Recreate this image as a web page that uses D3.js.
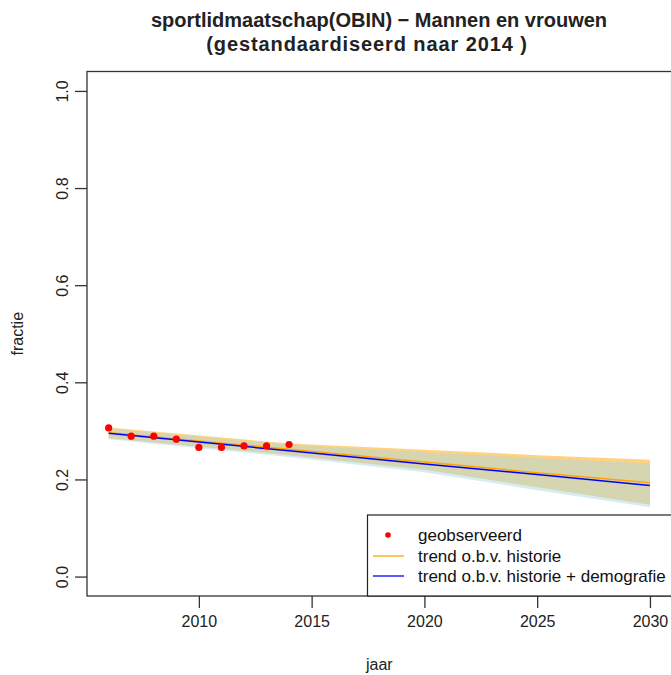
<!DOCTYPE html>
<html>
<head>
<meta charset="utf-8">
<script src="https://cdn.jsdelivr.net/npm/d3@7/dist/d3.min.js"></script>
<style>
  html, body { margin: 0; padding: 0; background: #fff; overflow: hidden; }
  text { font-family: "Liberation Sans", Arial, sans-serif; }
</style>
</head>
<body>
<script>
// Observed sport club membership fractions
const obsYears = [2006, 2007, 2008, 2009, 2010, 2011, 2012, 2013, 2014];
const obsValues = [0.306, 0.289, 0.289, 0.283, 0.266, 0.266, 0.269, 0.269, 0.272];

// Projection years and trend lines with their bands
const trendYears = [2006, 2014, 2020, 2025, 2030];
const histMid   = [0.296, 0.262, 0.236, 0.214, 0.193];
const histLow   = [0.285, 0.250, 0.220, 0.184, 0.148];
const histHigh  = [0.307, 0.274, 0.261, 0.250, 0.2405];
const demoMid   = [0.295, 0.259, 0.232, 0.210, 0.1875];
const demoLow   = [0.283, 0.246, 0.215, 0.178, 0.143];
const demoHigh  = [0.305, 0.271, 0.256, 0.244, 0.233];

const xTicks = [2010, 2015, 2020, 2025, 2030];
const yTicks = [0.0, 0.2, 0.4, 0.6, 0.8, 1.0];

const legendLabels = ["geobserveerd", "trend o.b.v. historie", "trend o.b.v. historie + demografie"];
const titleLines = ["sportlidmaatschap(OBIN) \u2212 Mannen en vrouwen", "(gestandaardiseerd naar 2014 )"];

const W = 671, H = 675;
const plot = { left: 87, top: 71.5, right: 671.6, bottom: 596 };

const svg = d3.select("body").append("svg")
  .attr("width", W).attr("height", H);

// R-style 4% padding around data ranges
const x = d3.scaleLinear().domain([2005.04, 2030.96]).range([plot.left, plot.right]);
const y = d3.scaleLinear().domain([-0.04, 1.04]).range([plot.bottom, plot.top]);

// Confidence bands
const band = (lo, hi) => d3.area()
  .x((d, i) => x(trendYears[i]))
  .y0((d, i) => y(lo[i]))
  .y1((d, i) => y(hi[i]))(trendYears);

svg.append("path").attr("d", band(histLow, histHigh))
  .attr("fill", "#FFA500").attr("fill-opacity", 0.5);
svg.append("path").attr("d", band(demoLow, demoHigh))
  .attr("fill", "#ADD8E6").attr("fill-opacity", 0.5);

const line = vals => d3.line()
  .x((d, i) => x(trendYears[i]))
  .y((d, i) => y(vals[i]))(trendYears);

svg.append("path").attr("d", line(histMid))
  .attr("fill", "none").attr("stroke", "#FFA500").attr("stroke-width", 1.5);
svg.append("path").attr("d", line(demoMid))
  .attr("fill", "none").attr("stroke", "#0000FF").attr("stroke-width", 1.5);

// Observed points
svg.append("g").selectAll("circle").data(obsYears).join("circle")
  .attr("cx", d => x(d))
  .attr("cy", (d, i) => y(obsValues[i]))
  .attr("r", 3.6)
  .attr("fill", "#FF0000");

// Plot frame
svg.append("rect")
  .attr("x", plot.left).attr("y", plot.top)
  .attr("width", plot.right - plot.left).attr("height", plot.bottom - plot.top)
  .attr("fill", "none").attr("stroke", "#333").attr("stroke-width", 1.3);

// Axes
const xAxis = svg.append("g")
  .attr("transform", `translate(0,${plot.bottom})`)
  .call(d3.axisBottom(x).tickValues(xTicks).tickFormat(d3.format("d")).tickSize(12).tickPadding(8));
xAxis.select(".domain").remove();
xAxis.selectAll("line").attr("stroke", "#333").attr("stroke-width", 1.3);
xAxis.selectAll("text").attr("font-size", 16).attr("fill", "#222")
  .attr("font-family", "Liberation Sans, Arial, sans-serif");

const yAxis = svg.append("g")
  .attr("transform", `translate(${plot.left},0)`)
  .call(d3.axisLeft(y).tickValues(yTicks).tickFormat(d3.format(".1f")).tickSize(12).tickPadding(0));
yAxis.select(".domain").remove();
yAxis.selectAll("line").attr("stroke", "#333").attr("stroke-width", 1.3);
yAxis.selectAll("text")
  .attr("font-size", 16).attr("fill", "#222")
  .attr("font-family", "Liberation Sans, Arial, sans-serif")
  .attr("x", null).attr("dy", null)
  .attr("text-anchor", "middle")
  .attr("transform", "translate(-25,0) rotate(-90)")
  .attr("dominant-baseline", "central");

// Axis titles
svg.append("text").attr("x", (plot.left + plot.right) / 2 - 0).attr("y", 670)
  .attr("text-anchor", "middle").attr("font-size", 16).attr("fill", "#222").text("jaar");
svg.append("text")
  .attr("transform", `translate(23,${(plot.top + plot.bottom) / 2}) rotate(-90)`)
  .attr("text-anchor", "middle").attr("font-size", 16).attr("fill", "#222").text("fractie");

// Title
const titleX = [379, 367];
const titleSpacing = [0, 0.9];
svg.append("g").selectAll("text").data(titleLines).join("text")
  .attr("x", (d, i) => titleX[i]).attr("y", (d, i) => 27 + i * 24)
  .attr("text-anchor", "middle").attr("font-size", 20).attr("font-weight", "bold")
  .attr("letter-spacing", (d, i) => titleSpacing[i])
  .attr("fill", "#222").text(d => d);

// Legend
const lg = svg.append("g");
lg.append("rect")
  .attr("x", 367.5).attr("y", 515).attr("width", plot.right - 367.5).attr("height", plot.bottom - 515)
  .attr("fill", "#fff").attr("stroke", "#222").attr("stroke-width", 1.2);
const legY = [535, 556, 576];
lg.append("circle").attr("cx", 388).attr("cy", legY[0]).attr("r", 2.8).attr("fill", "#FF0000");
lg.append("line").attr("x1", 373).attr("x2", 404).attr("y1", legY[1]).attr("y2", legY[1])
  .attr("stroke", "#FFA500").attr("stroke-width", 1.3);
lg.append("line").attr("x1", 373).attr("x2", 404).attr("y1", legY[2]).attr("y2", legY[2])
  .attr("stroke", "#0000FF").attr("stroke-width", 1.3);
lg.selectAll("text.lab").data(legendLabels).join("text")
  .attr("class", "lab")
  .attr("x", 418).attr("y", (d, i) => legY[i])
  .attr("dominant-baseline", "central")
  .attr("font-size", 17).attr("fill", "#111").text(d => d);
</script>
</body>
</html>
